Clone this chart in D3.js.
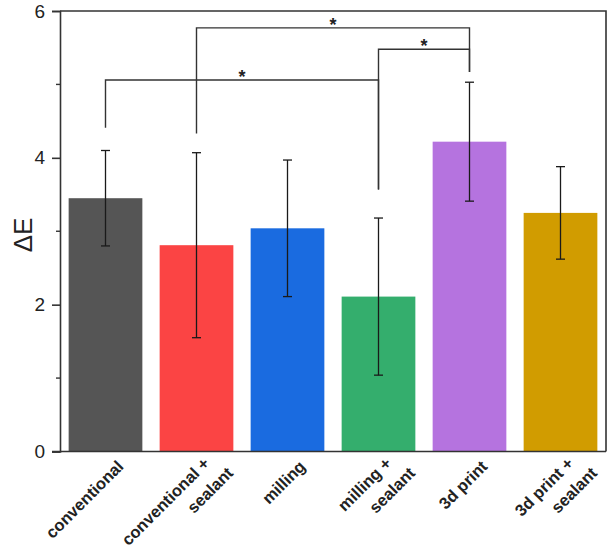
<!DOCTYPE html>
<html>
<head>
<meta charset="utf-8">
<script src="https://cdn.jsdelivr.net/npm/d3@7"></script>
<style>
    body { margin: 0; background: #fff; }
    text { font-family: "Liberation Sans", Arial, sans-serif; }
</style>
</head>
<body>
<svg id="chart" width="611" height="552"></svg>
<script>
const width = 611;
const height = 552;
const plotLeft = 60;
const plotRight = 606;
const plotTop = 11;
const plotBottom = 451.5;

// groups, in drawing order
const groups = [
    ["conventional"],
    ["conventional +", "sealant"],
    ["milling"],
    ["milling +", "sealant"],
    ["3d print"],
    ["3d print +", "sealant"]
];
const means = [3.45, 2.81, 3.04, 2.11, 4.22, 3.25];
const errors = [0.65, 1.26, 0.93, 1.07, 0.81, 0.63];
const colors = ["#555555", "#fb4444", "#1a6be0", "#34ae6d", "#b573df", "#d19c00"];

const yTicks = [0, 2, 4, 6];
const yMinorTicks = [1, 3, 5];

// significance brackets: from group, to group, bar height, left leg end, right leg end
const bracketFrom = [0, 1, 3];
const bracketTo = [3, 4, 4];
const bracketLevel = [5.06, 5.77, 5.48];
const bracketLeftEnd = [4.41, 4.33, 3.57];
const bracketRightEnd = [3.57, 5.17, 5.17];

const svg = d3.select("#chart");

const x = d3.scaleBand()
    .domain(d3.range(groups.length))
    .range([plotLeft, plotRight])
    .paddingInner(0.19)
    .paddingOuter(0.095);

const y = d3.scaleLinear()
    .domain([0, 6])
    .range([plotBottom, plotTop]);

function cx(i) {
    return x(i) + x.bandwidth() / 2;
}

// bars
svg.selectAll("rect.bar")
    .data(means)
    .join("rect")
    .attr("class", "bar")
    .attr("x", (d, i) => x(i))
    .attr("y", d => y(d))
    .attr("width", x.bandwidth())
    .attr("height", d => y(0) - y(d))
    .attr("fill", (d, i) => colors[i]);

// error bars
const capHalf = 4.5;
means.forEach(function (m, i) {
    const g = svg.append("g")
        .attr("stroke", "#1a1a1a")
        .attr("stroke-width", 1.3);
    g.append("line")
        .attr("x1", cx(i)).attr("x2", cx(i))
        .attr("y1", y(m + errors[i])).attr("y2", y(m - errors[i]));
    g.append("line")
        .attr("x1", cx(i) - capHalf).attr("x2", cx(i) + capHalf)
        .attr("y1", y(m + errors[i])).attr("y2", y(m + errors[i]));
    g.append("line")
        .attr("x1", cx(i) - capHalf).attr("x2", cx(i) + capHalf)
        .attr("y1", y(m - errors[i])).attr("y2", y(m - errors[i]));
});

// significance brackets
for (let k = 0; k < bracketFrom.length; k++) {
    const x1 = cx(bracketFrom[k]);
    const x2 = cx(bracketTo[k]);
    const yl = y(bracketLevel[k]);
    svg.append("path")
        .attr("d", `M${x1},${y(bracketLeftEnd[k])}V${yl}H${x2}V${y(bracketRightEnd[k])}`)
        .attr("fill", "none")
        .attr("stroke", "#333")
        .attr("stroke-width", 1.4);
    svg.append("text")
        .attr("x", (x1 + x2) / 2)
        .attr("y", yl + 3)
        .attr("text-anchor", "middle")
        .attr("font-size", "18px")
        .attr("font-weight", "bold")
        .attr("fill", "#222")
        .text("*");
}

// frame (top and right)
svg.append("path")
    .attr("d", `M${plotLeft},${plotTop}H${plotRight}V${plotBottom}`)
    .attr("fill", "none")
    .attr("stroke", "#333")
    .attr("stroke-width", 1.6);

// y axis
const yAxis = svg.append("g")
    .attr("transform", `translate(${plotLeft},0)`)
    .call(d3.axisLeft(y).tickValues(yTicks).tickFormat(d3.format("d")).tickSize(8).tickPadding(7));
yAxis.select(".domain").attr("stroke", "#333").attr("stroke-width", 1.6);
yAxis.selectAll(".tick line").attr("stroke", "#333").attr("stroke-width", 1.6);
yAxis.selectAll(".tick text")
    .attr("font-family", "Liberation Sans, Arial, sans-serif")
    .attr("font-size", "19px")
    .attr("fill", "#222");

svg.append("g")
    .selectAll("line")
    .data(yMinorTicks)
    .join("line")
    .attr("x1", plotLeft - 4).attr("x2", plotLeft)
    .attr("y1", d => y(d)).attr("y2", d => y(d))
    .attr("stroke", "#333")
    .attr("stroke-width", 1.4);

// x axis line
svg.append("line")
    .attr("x1", plotLeft - 8).attr("x2", plotRight)
    .attr("y1", plotBottom).attr("y2", plotBottom)
    .attr("stroke", "#333")
    .attr("stroke-width", 1.6);

// y axis title
svg.append("text")
    .attr("transform", `translate(32,235) rotate(-90)`)
    .attr("text-anchor", "middle")
    .attr("font-size", "26px")
    .attr("fill", "#222")
    .text("\u0394E");

// category labels, rotated
groups.forEach(function (lines, i) {
    const two = lines.length > 1;
    const g = svg.append("g")
        .attr("transform", `translate(${cx(i) + (two ? 14 : 19)},${plotBottom + (two ? 13 : 16)}) rotate(-45)`);
    g.append("text")
        .attr("text-anchor", "end")
        .attr("font-size", "16.5px")
        .attr("font-weight", "bold")
        .attr("fill", "#222")
        .text(lines[0]);
    if (two) {
        g.append("text")
            .attr("x", 10)
            .attr("y", 23.5)
            .attr("text-anchor", "end")
            .attr("font-size", "16.5px")
            .attr("font-weight", "bold")
            .attr("fill", "#222")
            .text(lines[1]);
    }
});
</script>
</body>
</html>
